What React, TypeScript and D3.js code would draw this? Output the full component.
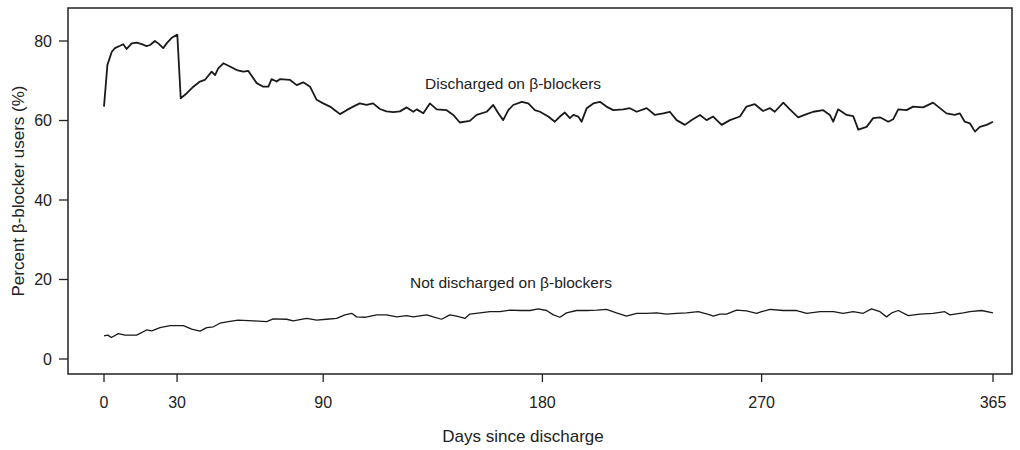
import React from "react";
import * as d3 from "d3";

const dischargedDays = [0,1.4,3.2,4.5,6.6,7.9,9.3,11.4,13.4,15.5,17.5,18.9,20.9,22.3,24.3,25.7,27.8,30.1,31.5,33.9,36.7,39.4,41.4,44.2,45.6,46.9,49,51.7,54.5,57.2,59.2,62.7,65.4,67.5,68.8,70.9,72.2,76.4,79.1,81.8,84.6,87.3,90,92.8,94.8,96.9,99.6,102.3,105,107.8,110.5,113.3,116,118.8,121.5,124.3,127,128.4,131.1,133.8,136.6,140.7,143.4,146.1,150.2,153,157.1,159.8,161.9,163.9,166,168,171.5,174.2,176.9,179,182.4,185.1,187.2,189.2,191.3,192.7,194.7,196.1,198.2,200.9,203.6,206.3,209.1,213.2,215.9,218.7,222.8,226.2,229.6,232.3,235.1,238.5,241.3,244.7,247.4,250.1,253.6,257,261.1,263.8,267.2,270.6,273.4,275.4,278.9,281.6,285,288.5,291.2,295.3,298,299.4,301.4,304.9,307.6,309.7,313.1,315.8,318.6,322,324,326.1,329.5,332.2,336.3,340.4,343.2,345.9,349.3,351.4,353.4,355.5,357.6,359.6,362.4,365];
const dischargedPct = [63.5,74,77.3,78.2,78.8,79.2,78,79.4,79.6,79.2,78.7,79,80,79.4,78.2,79.4,80.8,81.6,65.6,66.8,68.5,69.8,70.2,72.3,71.4,73.1,74.4,73.6,72.7,72.3,72.5,69.4,68.5,68.5,70.4,69.8,70.4,70.2,68.9,69.6,68.5,65.2,64.3,63.5,62.6,61.6,62.6,63.5,64.3,63.9,64.3,62.9,62.3,62.1,62.3,63.3,62.2,62.8,61.8,64.3,62.8,62.6,61.4,59.5,59.9,61.4,62.2,63.9,61.8,60.1,62.6,63.9,64.7,64.3,62.6,62.2,61,59.7,61,62,60.6,61.4,61,59.7,63.1,64.3,64.7,63.5,62.6,62.8,63.1,62.2,63.1,61.4,61.8,62.2,60.1,58.9,60.1,61.4,60.1,61,58.9,60.1,61,63.5,64.1,62.4,63.1,62.2,64.5,62.8,60.8,61.6,62.2,62.6,61.4,59.7,62.8,61.4,61.1,57.7,58.4,60.6,60.8,59.7,60.3,62.8,62.6,63.5,63.3,64.5,63.1,61.8,61.4,61.8,59.7,59.3,57.2,58.4,58.9,59.7];

const notDischargedDays = [0,1.6,3,5.9,8.6,13.4,17.5,19.6,23,27.1,32.6,36,39.4,42.2,44.9,47.6,51,55.1,61.3,66.8,69.5,75,77.7,83.2,87.3,91.4,95.5,98.9,101.7,103.7,107.1,111.9,116,120.2,124.3,127,132.5,135.2,138.6,142,144.8,148.2,150.2,154.4,158.5,162.6,166.7,170.8,174.9,178.3,181.7,184.5,187.2,189.9,194,198.2,202.3,206.3,210.4,214.5,218.7,222.8,226.9,231,235.1,239.2,244,248.8,250.1,252.9,255.6,259.7,263.8,267.9,270,273.4,278.9,284.4,288.5,294,299.5,303.5,307.6,311.7,315.1,318.6,321.3,323.4,326.1,330.2,335,340.4,345.2,347.3,352.8,355.5,360.3,365];
const notDischargedPct = [5.8,6.0,5.4,6.4,6.0,6.0,7.3,7.1,7.9,8.4,8.4,7.5,7.0,7.9,8.1,9.0,9.4,9.8,9.6,9.4,10.1,10.0,9.6,10.2,9.8,10.0,10.2,11.1,11.5,10.6,10.5,11.1,11.1,10.6,10.9,10.6,11.1,10.6,10.0,11.1,10.8,10.2,11.3,11.6,11.9,11.9,12.3,12.2,12.2,12.6,12.2,11.1,10.5,11.6,12.2,12.2,12.3,12.5,11.6,10.8,11.5,11.5,11.6,11.3,11.5,11.6,11.9,11.1,10.8,11.3,11.3,12.3,12.1,11.5,11.9,12.5,12.2,12.2,11.5,11.9,11.9,11.5,11.9,11.5,12.6,11.9,10.6,11.6,12.2,10.9,11.3,11.5,11.9,11.1,11.6,11.9,12.2,11.6];

const xTicks = [0, 30, 90, 180, 270, 365];
const yTicks = [0, 20, 40, 60, 80];
const seriesLabels = ["Discharged on β-blockers", "Not discharged on β-blockers"];
const xTitle = "Days since discharge";
const yTitle = "Percent β-blocker users (%)";

const W = 1020, H = 450;
const frame = { left: 68, right: 1012, top: 8, bottom: 374 };
const FONT = "'Liberation Sans', Arial, Helvetica, sans-serif";
const INK = "#222";

export default function App() {
  const x = d3.scaleLinear().domain([0, 365]).range([104, 993]);
  const y = d3.scaleLinear().domain([0, 80]).range([359, 41]);
  const line = d3.line<[number, number]>().x(d => x(d[0])).y(d => y(d[1]));
  const upper = dischargedDays.map((d, i) => [d, dischargedPct[i]] as [number, number]);
  const lower = notDischargedDays.map((d, i) => [d, notDischargedPct[i]] as [number, number]);

  return (
    <svg width={W} height={H} style={{ position: "absolute", left: 0, top: 0, background: "#fff" }} fontFamily={FONT}>
      <rect x={0} y={0} width={W} height={H} fill="#fff" />
      <rect x={frame.left} y={frame.top} width={frame.right - frame.left} height={frame.bottom - frame.top}
        fill="none" stroke={INK} strokeWidth={1.5} />
      {yTicks.map(t => (
        <g key={"y" + t}>
          <line x1={frame.left - 9} x2={frame.left} y1={y(t)} y2={y(t)} stroke={INK} strokeWidth={1.3} />
          <text x={52} y={y(t)} dy="0.36em" textAnchor="end" fontSize={16} fill={INK}>{t}</text>
        </g>
      ))}
      {xTicks.map(t => (
        <g key={"x" + t}>
          <line x1={x(t)} x2={x(t)} y1={frame.bottom} y2={frame.bottom + 8} stroke={INK} strokeWidth={1.3} />
          <text x={x(t)} y={408} textAnchor="middle" fontSize={16} fill={INK}>{t}</text>
        </g>
      ))}
      <path d={line(upper) || ""} fill="none" stroke="#1a1a1a" strokeWidth={1.8} strokeLinejoin="round" />
      <path d={line(lower) || ""} fill="none" stroke="#1a1a1a" strokeWidth={1.3} strokeLinejoin="round" />
      <text x={425} y={89} fontSize={15.5} fill={INK}>{seriesLabels[0]}</text>
      <text x={410} y={288} fontSize={15.5} fill={INK}>{seriesLabels[1]}</text>
      <text x={523} y={442} textAnchor="middle" fontSize={17} fill={INK}>{xTitle}</text>
      <text transform={`translate(24,191) rotate(-90)`} textAnchor="middle" fontSize={17} fill={INK}>{yTitle}</text>
    </svg>
  );
}
